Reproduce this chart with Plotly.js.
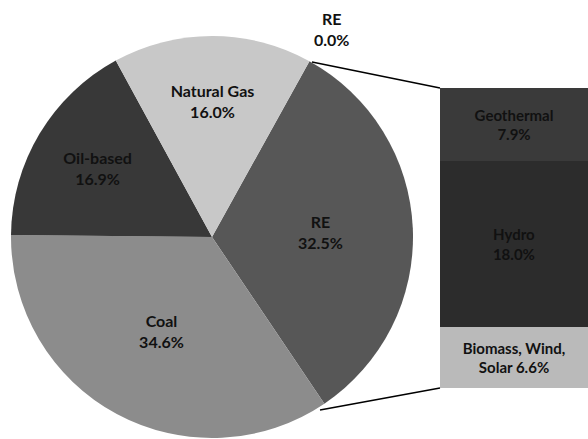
<!DOCTYPE html>
<html>
<head>
<meta charset="utf-8">
<script src="https://cdn.plot.ly/plotly-3.0.1.min.js"></script>
<style>html,body{margin:0;padding:0;background:#fff;}#chart{width:588px;height:439px;}</style>
</head>
<body>
<div id="chart"></div>
<script>
// Pie data (share of total, %)
const pieLabels = ["RE", "Coal", "Oil-based", "Natural Gas"];
const pieValues = [32.5, 34.6, 16.9, 16.0];
const pieColors = ["#575757", "#8c8c8c", "#383838", "#c8c8c8"];

// Bar breakdown of RE (bottom to top)
const barLabels = ["Biomass, Wind,", "Hydro", "Geothermal"];
const barLabelTail = ["Solar ", "", ""];
const barValues = [6.6, 18.0, 7.9];
const barColors = ["#bababa", "#2c2c2c", "#3a3a3a"];

// Zero-value RE item shown above the pie
const zeroLabel = "RE";
const zeroValue = 0.0;

const font = "Lato, 'Open Sans', 'DejaVu Sans', sans-serif";

const traces = [{
  type: "pie",
  labels: pieLabels,
  values: pieValues,
  sort: false,
  direction: "clockwise",
  rotation: 29,
  marker: {colors: pieColors, line: {width: 0}},
  texttemplate: "%{label}<br>%{value:.1f}%",
  textposition: "inside",
  insidetextorientation: "horizontal",
  textfont: {family: font, size: 16, color: "#111", weight: "bold"},
  domain: {x: [11/588, 413/588], y: [1 - 438/439, 1 - 36/439]},
  hoverinfo: "none",
  showlegend: false
}];

barLabels.forEach((name, i) => {
  traces.push({
    type: "bar",
    x: [0],
    y: [barValues[i]],
    width: 1,
    name: name,
    xaxis: "x",
    yaxis: "y",
    marker: {color: barColors[i], line: {width: 0}},
    text: [name + "<br>" + barLabelTail[i] + barValues[i].toFixed(1) + "%"],
    textposition: "inside",
    insidetextanchor: "middle",
    constraintext: "none",
    textfont: {family: font, size: 15, color: "#111", weight: "bold"},
    hoverinfo: "none",
    showlegend: false
  });
});

const layout = {
  width: 588, height: 439,
  margin: {l: 0, r: 0, t: 0, b: 0},
  paper_bgcolor: "#fff",
  plot_bgcolor: "rgba(0,0,0,0)",
  barmode: "stack",
  bargap: 0,
  xaxis: {domain: [440/588, 1], range: [-0.5, 0.5], visible: false, fixedrange: true},
  yaxis: {domain: [1 - 388/439, 1 - 88/439], range: [0, 32.5], visible: false, fixedrange: true},
  shapes: [
    {type: "line", xref: "paper", yref: "paper", x0: 312/588, y0: 1 - 62/439, x1: 440/588, y1: 1 - 88/439, line: {color: "#000", width: 1.5}},
    {type: "line", xref: "paper", yref: "paper", x0: 320/588, y0: 1 - 410/439, x1: 440/588, y1: 1 - 388/439, line: {color: "#000", width: 1.5}}
  ],
  annotations: [{
    xref: "paper", yref: "paper", x: 331/588, y: 1 - 29/439,
    text: zeroLabel + "<br>" + zeroValue.toFixed(1) + "%",
    showarrow: false,
    font: {family: font, size: 16, color: "#111", weight: "bold"},
    xanchor: "center", yanchor: "middle"
  }]
};

Plotly.newPlot("chart", traces, layout, {displayModeBar: false, staticPlot: true});
</script>
</body>
</html>
